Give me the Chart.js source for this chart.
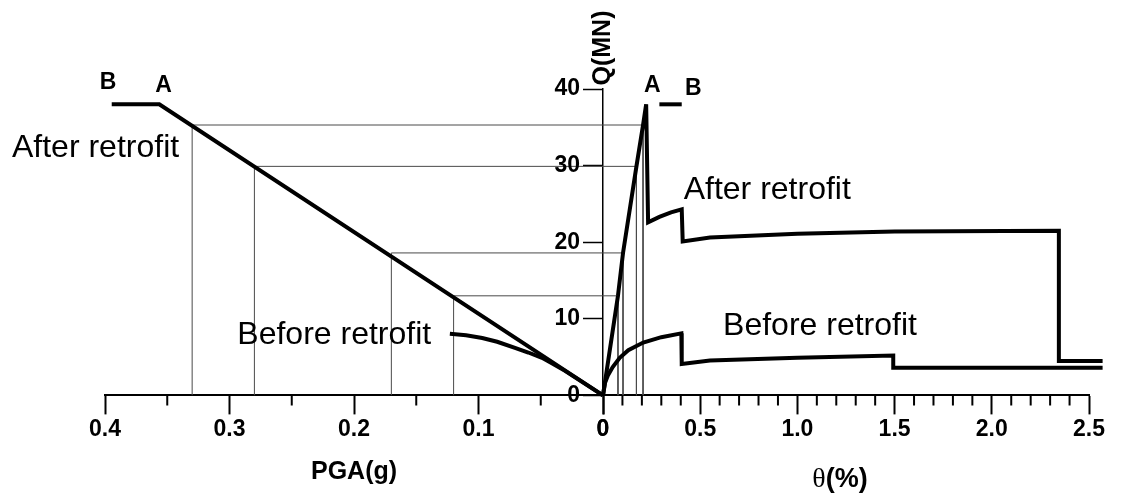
<!DOCTYPE html>
<html>
<head>
<meta charset="utf-8">
<script src="https://cdn.jsdelivr.net/npm/chart.js@4.4.0/dist/chart.umd.min.js"></script>
<style>
  html, body { margin: 0; padding: 0; background: #fff; }
  #wrap { width: 1126px; height: 497px; }
</style>
</head>
<body>
<div id="wrap"><canvas id="pushoverChart"></canvas></div>
<script>
// ---------- DATA ----------
// left panel: PGA(g) vs Q(MN)
const pgaAfter = [0.3946, 0.3564, 0];
const qAfterLeft = [38, 38, 0];
const pgaBefore = [0.123, 0.11, 0.097, 0.085, 0.0707, 0.06, 0.049, 0.04, 0.0305, 0];
const qBeforeLeft = [8.05, 7.85, 7.5, 7.0, 6.2, 5.6, 4.9, 4.1, 3.2, 0];

// right panel: drift θ(%) vs Q(MN)
const thetaAfter = [0, 0.077, 0.103, 0.172, 0.206, 0.222, 0.232, 0.29, 0.35, 0.405, 0.41, 0.55, 1.0, 1.5, 2.345, 2.345, 2.57];
const qAfterRight = [0, 13.0, 18.6, 29.9, 35.3, 38, 22.6, 23.3, 23.9, 24.3, 20.1, 20.6, 21.1, 21.4, 21.5, 4.5, 4.5];
const thetaBefore = [0, 0.01, 0.025, 0.05, 0.086, 0.13, 0.207, 0.3, 0.403, 0.405, 0.55, 1.0, 1.493, 1.493, 2.57];
const qBeforeRight = [0, 1.6, 2.6, 3.7, 4.9, 5.9, 6.9, 7.6, 8.1, 4.1, 4.55, 4.9, 5.2, 3.6, 3.6];
const thetaPlateau = [0.29, 0.405];
const qPlateau = [38, 38];

// guide lines (PGA -> Q -> θ)
const guidePga = [0.33, 0.28, 0.17, 0.12];
const guideQ = [35.3, 29.9, 18.6, 13.0];
const guideTheta = [0.206, 0.172, 0.103, 0.077];

// ticks
const pgaTicks = [0.4, 0.3, 0.2, 0.1, 0];
const pgaMinor = [0.35, 0.25, 0.15, 0.05];
const thetaTicks = [0, 0.5, 1, 1.5, 2, 2.5];
const thetaMinor = [0.1, 0.2, 0.3, 0.4, 0.6, 0.7, 0.8, 0.9, 1.1, 1.2, 1.3, 1.4, 1.6, 1.7, 1.8, 1.9, 2.1, 2.2, 2.3, 2.4];
const qTicks = [0, 10, 20, 30, 40];

// ---------- DATASETS ----------
const pts = (xs, ys) => xs.map((v, i) => ({ x: v, y: ys[i] }));

function curve(xs, ys, axis) {
  return {
    data: pts(xs, ys), xAxisID: axis, yAxisID: 'y',
    showLine: true, pointRadius: 0, borderColor: '#000', borderWidth: 4,
    clip: false, order: 0
  };
}
function guide(xs, ys, axis) {
  return {
    data: pts(xs, ys), xAxisID: axis, yAxisID: 'y',
    showLine: true, pointRadius: 0, borderColor: '#4a4a4a', borderWidth: 1, order: 1
  };
}

const datasets = [];
guidePga.forEach((p, i) => {
  datasets.push(guide([p, p, 0], [0, guideQ[i], guideQ[i]], 'xl'));
  datasets.push(guide([0, guideTheta[i], guideTheta[i]], [guideQ[i], guideQ[i], 0], 'xr'));
});
datasets.push(curve(pgaAfter, qAfterLeft, 'xl'));
datasets.push(curve(pgaBefore, qBeforeLeft, 'xl'));
datasets.push(curve(thetaAfter, qAfterRight, 'xr'));
datasets.push(curve(thetaBefore, qBeforeRight, 'xr'));
datasets.push(curve(thetaPlateau, qPlateau, 'xr'));

// ---------- TEXT + MINOR TICKS ----------
const notes = [
  { text: 'B', axis: 'xl', x: 0.3975, y: 40.8, bold: true, size: 23 },
  { text: 'A', axis: 'xl', x: 0.3530, y: 40.5, bold: true, size: 23 },
  { text: 'A', axis: 'xr', x: 0.253, y: 40.4, bold: true, size: 23 },
  { text: 'B', axis: 'xr', x: 0.464, y: 40.1, bold: true, size: 23 },
  { text: 'After retrofit', axis: 'xl', x: 0.4747, y: 31.1, size: 32, align: 'left', base: true },
  { text: 'After retrofit', axis: 'xr', x: 0.415, y: 25.6, size: 32, align: 'left', base: true },
  { text: 'Before retrofit', axis: 'xl', x: 0.2937, y: 6.65, size: 32, align: 'left', base: true },
  { text: 'Before retrofit', axis: 'xr', x: 0.6176, y: 7.83, size: 32, align: 'left', base: true }
];

const overlay = {
  id: 'overlay',
  afterDraw(chart) {
    const ctx = chart.ctx;
    const { xl, xr, y } = chart.scales;
    const axisY = chart.chartArea.bottom;
    const yx = xr.getPixelForValue(0);
    ctx.save();

    // minor ticks
    ctx.strokeStyle = '#000';
    ctx.lineWidth = 2;
    ctx.beginPath();
    pgaMinor.forEach(v => { const px = xl.getPixelForValue(v); ctx.moveTo(px, axisY); ctx.lineTo(px, axisY + 10); });
    thetaMinor.forEach(v => { const px = xr.getPixelForValue(v); ctx.moveTo(px, axisY); ctx.lineTo(px, axisY + 10); });
    ctx.stroke();

    // y tick labels (axis sits in the middle of the chart)
    ctx.fillStyle = '#000';
    ctx.font = 'bold 23px "Liberation Sans", Arial, sans-serif';
    ctx.textAlign = 'right';
    ctx.textBaseline = 'middle';
    qTicks.forEach(v => ctx.fillText(String(v), yx - 23, y.getPixelForValue(v)));

    // notes
    notes.forEach(n => {
      ctx.font = (n.bold ? 'bold ' : '') + n.size + 'px "Liberation Sans", Arial, sans-serif';
      ctx.textAlign = n.align || 'center';
      ctx.textBaseline = n.base ? 'alphabetic' : 'middle';
      ctx.fillText(n.text, chart.scales[n.axis].getPixelForValue(n.x), y.getPixelForValue(n.y));
    });

    // y title, rotated
    ctx.save();
    ctx.translate(yx + 7, 48);
    ctx.rotate(-Math.PI / 2);
    ctx.font = 'bold 25px "Liberation Sans", Arial, sans-serif';
    ctx.textAlign = 'center';
    ctx.textBaseline = 'alphabetic';
    ctx.fillText('Q(MN)', 0, 0);
    ctx.restore();

    // θ(%) title: serif theta + bold sans
    const cx = (xr.left + xr.right) / 2 - 6;
    ctx.textBaseline = 'alphabetic';
    ctx.textAlign = 'left';
    ctx.font = '28px "Liberation Serif", "Times New Roman", serif';
    const w1 = ctx.measureText('θ').width;
    ctx.font = 'bold 27px "Liberation Sans", Arial, sans-serif';
    const w2 = ctx.measureText('(%)').width;
    const x0 = cx - (w1 + w2) / 2;
    ctx.font = '28px "Liberation Serif", "Times New Roman", serif';
    ctx.fillText('θ', x0, 487);
    ctx.font = 'bold 27px "Liberation Sans", Arial, sans-serif';
    ctx.fillText('(%)', x0 + w1, 487);

    ctx.restore();
  }
};

// ---------- CHART ----------
const tickFont = { family: '"Liberation Sans", Arial, sans-serif', size: 23, weight: 'bold' };

function xAxis(min, max, reverse, weight, ticks) {
  return {
    type: 'linear', axis: 'x', position: 'bottom', stack: 'base', stackWeight: weight,
    min: min, max: max, reverse: reverse,
    afterBuildTicks: s => { s.ticks = ticks.map(v => ({ value: v })); },
    grid: { drawOnChartArea: false, drawTicks: true, tickLength: 19, tickWidth: 2, tickColor: '#000' },
    border: { display: true, color: '#000', width: 2 },
    ticks: { color: '#000', font: tickFont, padding: 1, maxRotation: 0, autoSkip: false }
  };
}

const xlAxis = xAxis(0, 0.4, true, 498, pgaTicks);
xlAxis.title = {
  display: true, text: 'PGA(g)', color: '#000',
  font: { family: '"Liberation Sans", Arial, sans-serif', size: 25, weight: 'bold' },
  padding: { top: 13.5, bottom: 0 }
};
const xrAxis = xAxis(0, 2.5, false, 486, thetaTicks);

new Chart(document.getElementById('pushoverChart'), {
  type: 'scatter',
  data: { datasets },
  options: {
    responsive: true,
    maintainAspectRatio: false,
    animation: false,
    layout: { padding: { left: 105, right: 37, top: 89, bottom: 9.5 } },
    plugins: { legend: { display: false }, tooltip: { enabled: false } },
    scales: {
      xl: xlAxis,
      xr: xrAxis,
      y: {
        type: 'linear', axis: 'y', position: { xr: 0 }, min: 0, max: 40,
        afterBuildTicks: s => { s.ticks = qTicks.map(v => ({ value: v })); },
        grid: { drawOnChartArea: false, drawTicks: true, tickLength: 19, tickWidth: 1.5, tickColor: '#000' },
        border: { display: true, color: '#000', width: 1.5 },
        ticks: { display: false }
      }
    }
  },
  plugins: [overlay]
});
</script>
</body>
</html>
